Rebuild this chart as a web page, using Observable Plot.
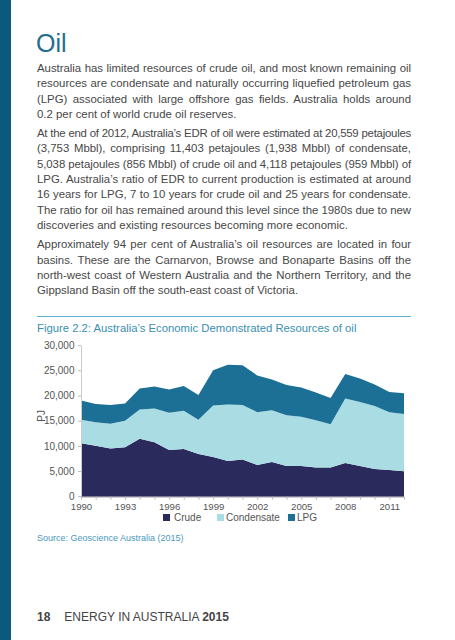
<!DOCTYPE html>
<html>
<head>
<meta charset="utf-8">
<script src="https://cdn.jsdelivr.net/npm/d3@7"></script>
<script src="https://cdn.jsdelivr.net/npm/@observablehq/plot@0.6"></script>
<style>
  html, body { margin: 0; padding: 0; background: #fff; }
  body { width: 455px; height: 640px; position: relative; overflow: hidden; font-family: "Liberation Sans", Arial, sans-serif; }
  #bar { position: absolute; left: 0; top: 0; width: 11px; height: 640px; background: #0b5a7c; }
  #title { position: absolute; left: 36px; top: 27.5px; font-size: 25px; color: #1e6e8e; line-height: 30px; }
  #text { position: absolute; left: 37px; top: 61px; width: 374px; font-size: 11.4px; line-height: 15.3px; color: #474747; }
  #text .p { margin-bottom: 4px; }
  #text .l { text-align: justify; text-align-last: justify; white-space: normal; }
  #text .last { white-space: nowrap; }
  #rule { position: absolute; left: 37px; top: 316px; width: 374px; height: 0; border-top: 1.5px solid #5fb2cf; }
  #figtitle { position: absolute; left: 37px; top: 322px; font-size: 11.3px; color: #3a90b4; }
  #chart { position: absolute; left: 0; top: 330px; }
  #legend { position: absolute; top: 511.5px; left: 0; width: 455px; font-size: 10px; color: #555; }
  #legend span.sw { position: absolute; top: 2.5px; width: 7px; height: 7px; }
  #legend span.tx { position: absolute; top: 0; }
  #source { position: absolute; left: 37px; top: 533px; font-size: 9px; color: #4a98bf; }
  #footer { position: absolute; left: 37px; top: 610px; font-size: 12px; color: #444; }
</style>
</head>
<body>
<div id="bar"></div>
<div id="title">Oil</div>
<div id="text">
  <div class="p">
    <div class="l">Australia has limited resources of crude oil, and most known remaining oil</div>
    <div class="l">resources are condensate and naturally occurring liquefied petroleum gas</div>
    <div class="l">(LPG) associated with large offshore gas fields. Australia holds around</div>
    <div class="last">0.2 per cent of world crude oil reserves.</div>
  </div>
  <div class="p">
    <div class="l">At the end of 2012, Australia’s EDR of oil were estimated at 20,559 petajoules</div>
    <div class="l">(3,753 Mbbl), comprising 11,403 petajoules (1,938 Mbbl) of condensate,</div>
    <div class="l">5,038 petajoules (856 Mbbl) of crude oil and 4,118 petajoules (959 Mbbl) of</div>
    <div class="l">LPG. Australia’s ratio of EDR to current production is estimated at around</div>
    <div class="l">16 years for LPG, 7 to 10 years for crude oil and 25 years for condensate.</div>
    <div class="l">The ratio for oil has remained around this level since the 1980s due to new</div>
    <div class="last">discoveries and existing resources becoming more economic.</div>
  </div>
  <div class="p">
    <div class="l">Approximately 94 per cent of Australia’s oil resources are located in four</div>
    <div class="l">basins. These are the Carnarvon, Browse and Bonaparte Basins off the</div>
    <div class="l">north-west coast of Western Australia and the Northern Territory, and the</div>
    <div class="last">Gippsland Basin off the south-east coast of Victoria.</div>
  </div>
</div>
<div id="rule"></div>
<div id="figtitle">Figure 2.2: Australia’s Economic Demonstrated Resources of oil</div>
<div id="chart"></div>
<div id="legend"></div>
<div id="source">Source: Geoscience Australia (2015)</div>
<div id="footer"><b>18</b><span style="margin-left:14px">ENERGY IN AUSTRALIA <b>2015</b></span></div>
<script>
// Data (PJ)
const years = [1990,1991,1992,1993,1994,1995,1996,1997,1998,1999,2000,2001,2002,2003,2004,2005,2006,2007,2008,2009,2010,2011,2012];
const crude = [10600,10100,9600,9800,11500,10800,9300,9500,8500,7900,7100,7400,6300,6900,6100,6100,5800,5800,6700,6100,5500,5300,5038];
const condensate = [4700,4700,4900,5300,5800,6700,7400,7600,6800,10200,11200,10800,10500,10300,10100,9800,9400,8600,12800,12700,12500,11500,11403];
const lpg = [3800,3600,3700,3400,4200,4400,4600,4900,4900,7000,7900,7900,7300,6100,6000,5800,5500,5200,4900,4700,4300,4000,4118];
const seriesNames = ["Crude", "Condensate", "LPG"];
const seriesColors = ["#2b2a5c", "#aadce4", "#1c7096"];
const yTicks = [0, 5000, 10000, 15000, 20000, 25000, 30000];
const xLabelYears = [1990, 1993, 1996, 1999, 2002, 2005, 2008, 2011];

// Fit justified lines that are too long by tightening letter spacing
document.querySelectorAll("#text .l").forEach(el => {
  const span = document.createElement("span");
  span.style.whiteSpace = "nowrap";
  span.textContent = el.textContent;
  el.textContent = "";
  el.appendChild(span);
  const w = span.getBoundingClientRect().width;
  const n = span.textContent.length;
  if (w > 373) el.style.letterSpacing = ((373 - w) / n) + "px";
  el.textContent = span.textContent;
});

const seriesValues = [crude, condensate, lpg];
const data = [];
seriesNames.forEach((name, s) => {
  years.forEach((yr, i) => data.push({year: yr, type: name, value: seriesValues[s][i]}));
});

const chart = Plot.plot({
  width: 455,
  height: 190,
  marginLeft: 81,
  marginRight: 51,
  marginTop: 15.7,
  marginBottom: 23.3,
  style: {fontFamily: "Liberation Sans, Arial, sans-serif", fontSize: "10px", color: "#555", background: "transparent"},
  x: {domain: [1990, 2012]},
  y: {domain: [0, 30000]},
  color: {domain: seriesNames, range: seriesColors},
  marks: [
    Plot.areaY(data, {x: "year", y: "value", fill: "type", z: "type", curve: "linear"}),
    Plot.axisY({ticks: yTicks, tickFormat: d3.format(","), tickSize: 3, tickPadding: 4, stroke: "#bbb", label: null, fill: "#555", dy: -0.5}),
    Plot.ruleX([1990], {stroke: "#ccc"}),
    Plot.axisX({ticks: years, tickFormat: d => xLabelYears.includes(d) ? String(d) : "", tickSize: 3, tickPadding: 2.5, stroke: "#bbb", label: null, fill: "#555", fontSize: 9.6}),
    Plot.ruleY([0], {stroke: "#bbb"}),
    Plot.text(["PJ"], {frameAnchor: "left", dx: -40, rotate: -90, fontSize: 10, fill: "#555"})
  ]
});
document.getElementById("chart").appendChild(chart);

// Legend
const legend = document.getElementById("legend");
const legendX = [[163, 174], [217, 226], [288, 297]];
seriesNames.forEach((name, i) => {
  const sw = document.createElement("span");
  sw.className = "sw";
  sw.style.left = legendX[i][0] + "px";
  sw.style.background = seriesColors[i];
  const tx = document.createElement("span");
  tx.className = "tx";
  tx.style.left = legendX[i][1] + "px";
  tx.textContent = name;
  legend.appendChild(sw);
  legend.appendChild(tx);
});
</script>
</body>
</html>
